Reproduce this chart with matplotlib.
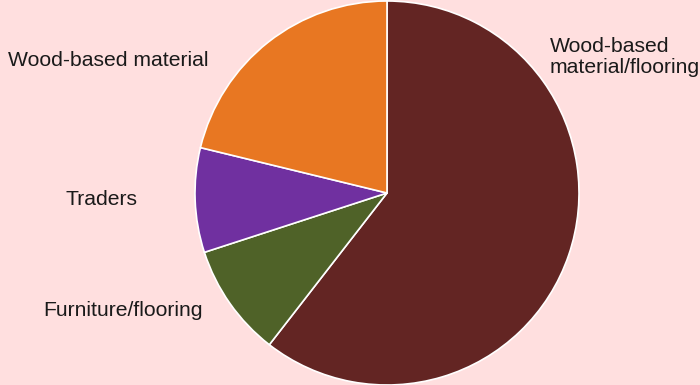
import matplotlib
matplotlib.use("Agg")
import matplotlib.pyplot as plt

# Share of each segment (percent), clockwise from 12 o'clock
segments = ["Wood-based\nmaterial/flooring", "Furniture/flooring", "Traders", "Wood-based material"]
shares = [60.5, 9.5, 8.8, 21.2]
colors = ["#632523", "#4F6228", "#7030A0", "#E87722"]

bg = "#FFDFDF"
plt.rcParams["font.family"] = ["Liberation Sans", "DejaVu Sans"]

fig = plt.figure(figsize=(7.0, 3.85), dpi=100, facecolor=bg)
W, H = 700, 385
cx, cy, r = 387, 193, 192
ax = fig.add_axes([(cx - r) / W, (H - cy - r) / H, 2 * r / W, 2 * r / H])
ax.set_facecolor(bg)
ax.pie(shares, colors=colors, startangle=90, counterclock=False, radius=1.0,
       wedgeprops=dict(edgecolor="white", linewidth=1.2), frame=False)
ax.set_xlim(-1, 1)
ax.set_ylim(-1, 1)
ax.set_aspect("equal")
ax.axis("off")


def px(x, y):
    """Pixel position on the canvas -> data coordinates of the pie axes."""
    return (x - cx) / r, (cy - y) / r


# anchor = baseline of the last text line
label_pos = [
    (px(550, 73), "left"),
    (px(203, 316.5), "right"),
    (px(137, 205), "right"),
    (px(209, 66), "right"),
]
for name, ((x, y), ha) in zip(segments, label_pos):
    ax.text(x, y, name, ha=ha, va="baseline", fontsize=15.2, color="#1a1a1a",
            linespacing=1.1, multialignment="left", clip_on=False)

fig.savefig("out.png", dpi=100, facecolor=bg)
